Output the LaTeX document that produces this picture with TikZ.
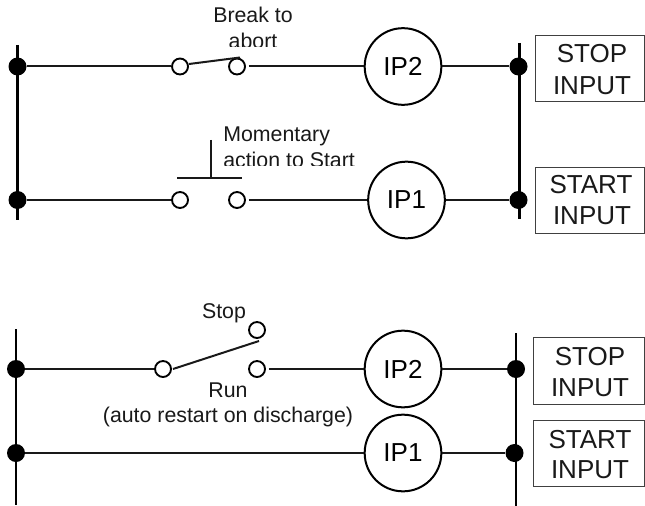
\documentclass[tikz,border=0pt]{standalone}
\usepackage{fontspec}
\setmainfont{Liberation Sans}
\begin{document}
\begin{tikzpicture}[x=0.75pt,y=-0.75pt,
  wire/.style={line width=1.5pt,black!90},
  bus/.style={line width=1.6pt,black},
  dot/.style={circle,fill=black,draw=none,inner sep=0pt,minimum size=13.5pt},
  contact/.style={circle,draw=black,fill=white,line width=1.4pt,inner sep=0pt,minimum size=12pt},
  ipcoil/.style={circle,draw=black,fill=white,line width=1.5pt,inner sep=0pt,minimum size=57.5pt,font=\fontsize{19.5pt}{19.5pt}\selectfont},
  inbox/.style={draw=black!75,line width=0.75pt},
  lab/.style={anchor=base,inner sep=0pt,font=\fontsize{16pt}{16pt}\selectfont,text=black!90},
  boxlab/.style={anchor=base,inner sep=0pt,font=\fontsize{19.5pt}{19.5pt}\selectfont,text=black!90}]
\useasboundingbox (0,0) rectangle (645,506);
\fill[white] (0,0) rectangle (645,506);
% --- top circuit ---
\coordinate (tlt) at (17.5,45);
\coordinate (tlb) at (17.5,220);
\coordinate (trt) at (519.5,43);
\coordinate (trb) at (519.5,219);
\draw[bus] (tlt) -- (tlb);
\draw[bus] (trt) -- (trb);
\node[dot] (d1) at (17.5,66.5) {};
\node[dot] (d2) at (17.5,200) {};
\node[dot] (d3) at (518.5,66.5) {};
\node[dot] (d4) at (518.5,200) {};
\node[contact] (c1) at (180,66.5) {};
\node[contact] (c2) at (237,66.5) {};
\node[contact] (c3) at (180,200) {};
\node[contact] (c4) at (237,200) {};
\node[ipcoil] (ip2a) at (403,66.5) {IP2};
\node[ipcoil] (ip1a) at (406.5,200) {IP1};
\draw[wire] (d1) -- (c1);
\draw[wire,shorten <=2.2pt] (c2) -- (ip2a);
\draw[wire] (ip2a) -- (d3);
\draw[wire] (d2) -- (c3);
\draw[wire,shorten <=2.2pt] (c4) -- (ip1a);
\draw[wire] (ip1a) -- (d4);
\coordinate (b1) at (189,64);
\coordinate (b2) at (240,57.5);
\draw[wire] (b1) -- (b2);
\coordinate (pt) at (210.5,140);
\coordinate (pm) at (210.5,178);
\coordinate (pl) at (177,178);
\coordinate (pr) at (242,178);
\draw[wire] (pt) -- (pm);
\draw[wire] (pl) -- (pr);
\begin{scope}
  \clip (205,0) rectangle (300,46.5);
  \node[lab] (l1) at (253,23) {Break to};
  \node[lab] (l2) at (253,48.5) {abort};
\end{scope}
\begin{scope}
  \clip (215,120) rectangle (370,165);
  \node[lab,anchor=base west] (l3) at (223,141.5) {Momentary};
  \node[lab,anchor=base west] (l4) at (223,167) {action to Start};
\end{scope}
\draw[inbox] (535.5,36) rectangle (644.5,102);
\draw[inbox] (535.5,167) rectangle (644.5,233);
\node[boxlab] (t1) at (592,63) {STOP};
\node[boxlab] (t2) at (592,95) {INPUT};
\node[boxlab] (t3) at (591,193) {START};
\node[boxlab] (t4) at (592,224) {INPUT};
% --- bottom circuit ---
\coordinate (blt) at (16,329);
\coordinate (blb) at (16,505);
\coordinate (brt) at (516,333);
\coordinate (brb) at (516,506);
\draw[bus] (blt) -- (blb);
\draw[bus] (brt) -- (brb);
\node[dot] (e1) at (16,369) {};
\node[dot] (e2) at (16,453) {};
\node[dot] (e3) at (516,369) {};
\node[dot] (e4) at (514.5,453) {};
\node[contact] (k1) at (163,369) {};
\node[contact] (k2) at (257,369) {};
\node[contact] (k3) at (257,330) {};
\node[ipcoil] (ip2b) at (403,369) {IP2};
\node[ipcoil] (ip1b) at (403,453) {IP1};
\draw[wire] (e1) -- (k1);
\draw[wire,shorten <=2.2pt] (k2) -- (ip2b);
\draw[wire] (ip2b) -- (e3);
\draw[wire] (e2) -- (ip1b);
\draw[wire] (ip1b) -- (e4);
\coordinate (b3) at (173,369);
\coordinate (b4) at (259,341);
\draw[wire] (b3) -- (b4);
\node[lab] (l5) at (224,318) {Stop};
\node[lab] (l6) at (228,397) {Run};
\node[lab] (l7) at (228,422) {(auto restart on discharge)};
\draw[inbox] (533.5,337.5) rectangle (644.5,404);
\draw[inbox] (533.5,420) rectangle (644.5,486);
\node[boxlab] (t5) at (590,365) {STOP};
\node[boxlab] (t6) at (590,396) {INPUT};
\node[boxlab] (t7) at (590,448) {START};
\node[boxlab] (t8) at (590,478) {INPUT};
\end{tikzpicture}
\end{document}
